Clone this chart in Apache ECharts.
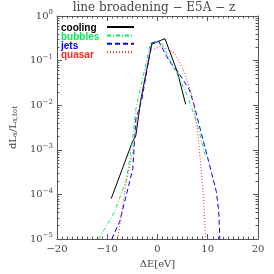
<!DOCTYPE html>
<html><head><meta charset="utf-8">
<script src="https://cdn.jsdelivr.net/npm/echarts@6/dist/echarts.min.js"></script>
<style>html,body{margin:0;padding:0;background:#fff}#c{width:274px;height:274px}</style>
</head><body><div id="c"></div>
<script>
const seriesNames = ['cooling', 'bubbles', 'jets', 'quasar'];
const xCooling = [-9.2, -5.0, -4.3, -3.3, -1.15, 0.8, 1.5, 4.0, 5.6];
const yCooling = [8.1e-5, 1.5e-3, 2.1e-3, 1.35e-2, 0.23, 0.29, 0.31, 0.054, 0.0105];
const xBubbles = [-11.7, -8.5, -6.2, -5.0, -4.3, -1.4, -0.2, 0.8, 2.1, 3.7, 6.0, 6.9, 7.9, 9.6];
const yBubbles = [1e-5, 4.2e-5, 2.1e-4, 1.5e-3, 8.1e-3, 0.245, 0.263, 0.25, 0.126, 0.054, 0.0162, 0.0081, 0.0038, 6.9e-4];
const xJets = [-9.1, -7.5, -4.9, -4.3, -3.1, -1.15, 0.2, 2.4, 4.0, 6.3, 7.25, 8.5, 10.8, 11.7, 12.2, 12.4];
const yJets = [1e-5, 2.5e-5, 3.8e-4, 4.9e-3, 0.0135, 0.25, 0.275, 0.095, 0.0575, 0.0229, 0.0105, 2.95e-3, 2.95e-4, 1.17e-4, 4.2e-5, 1e-5];
const xQuasar = [-7.9, -6.2, -4.9, -4.0, -3.3, -1.7, -1.1, 0.8, 3.4, 5.3, 6.9, 7.6, 8.2, 8.85, 9.2, 9.6];
const yQuasar = [1e-5, 1.95e-4, 9.1e-4, 4.9e-3, 0.0135, 0.135, 0.174, 0.21, 0.148, 0.0575, 0.0162, 4.9e-3, 1.5e-3, 2.3e-4, 6.9e-5, 1e-5];
const xTicks = [-20, -10, 0, 10, 20];
const yDecades = [1e-5, 1e-4, 1e-3, 1e-2, 1e-1, 1];

const colors = ['#000000', '#00ee55', '#0000ff', '#ff2a1a'];
const dashes = ['solid', [4, 2, 1, 2], [5, 3], [1, 2]];
const xs = [xCooling, xBubbles, xJets, xQuasar];
const ys = [yCooling, yBubbles, yJets, yQuasar];

const minorVals = [];
for (let e = -5; e < 0; e++) for (let m = 2; m <= 9; m++) minorVals.push(m * Math.pow(10, e));

const serif = 'DejaVu Serif';
const axisCol = '#555';
const pair = (a, b) => a.map((v, i) => [v, b[i]]);

function yBase(pos, labels) {
  return {
    type: 'log', logBase: 10, min: 1e-5, max: 1, position: pos,
    axisLine: { show: true, onZero: false, lineStyle: { color: axisCol, width: 1 } },
    axisTick: { show: true, inside: true, length: 5, lineStyle: { color: axisCol }, customValues: yDecades },
    axisLabel: labels ? {
      show: true, customValues: yDecades, color: '#444', fontFamily: serif, fontSize: 10, margin: 4,
      formatter: v => { const e = Math.round(Math.log10(v)); return '10{s|' + (e < 0 ? '\u2212' + (-e) : e) + '}'; },
      rich: { s: { fontSize: 7, verticalAlign: 'top', padding: [0, 0, 7, 0], fontFamily: serif, color: '#444' } }
    } : { show: false },
    splitLine: { show: false }
  };
}
function yMinor(pos) {
  return {
    type: 'log', logBase: 10, min: 1e-5, max: 1, position: pos,
    axisLine: { show: false, onZero: false },
    axisTick: { show: true, inside: true, length: 2.5, lineStyle: { color: axisCol }, customValues: minorVals },
    axisLabel: { show: false }, splitLine: { show: false }
  };
}
function xBase(pos, labels) {
  return {
    type: 'value', min: -20, max: 20, interval: 10, position: pos,
    axisLine: { show: true, onZero: false, lineStyle: { color: axisCol, width: 1 } },
    axisTick: { show: true, inside: true, length: 5, lineStyle: { color: axisCol } },
    minorTick: { show: true, splitNumber: 10, length: 2.5, lineStyle: { color: axisCol } },
    axisLabel: labels ? { show: true, color: '#444', fontFamily: serif, fontSize: 10, margin: 5,
      formatter: v => (v < 0 ? '\u2212' + (-v) : '' + v) } : { show: false },
    splitLine: { show: false }, minorSplitLine: { show: false },
    name: labels ? '\u0394E[eV]' : '', nameLocation: 'middle', nameGap: 19,
    nameTextStyle: { fontFamily: serif, fontSize: 10, color: '#444' }
  };
}

const chart = echarts.init(document.getElementById('c'), null, { renderer: 'canvas' });
const y0 = yBase('left', true);
y0.name = 'dL{b|x}/L{b|x,tot}';
y0.nameLocation = 'middle';
y0.nameGap = 23;
y0.nameRotate = 90;
y0.nameTextStyle = { fontFamily: serif, fontSize: 10, color: '#444',
  rich: { b: { fontSize: 7, verticalAlign: 'bottom', padding: [5, 0, 0, 0], fontFamily: serif, color: '#444' } } };

chart.setOption({
  animation: false,
  title: { text: 'line broadening \u2212 E5A \u2212 z', left: 154, textAlign: 'center', top: 1, padding: [0, 0, 0, 0],
    textStyle: { fontFamily: serif, fontWeight: 'normal', fontSize: 12, lineHeight: 13, color: '#444' } },
  grid: { left: 50, right: 16, top: 16, bottom: 33, containLabel: false },
  xAxis: [xBase('bottom', true), xBase('top', false)],
  yAxis: [y0, yMinor('left'), yBase('right', false), yMinor('right')],
  legend: [
    { orient: 'vertical', left: 101, top: 19, itemWidth: 27, itemHeight: 6, itemGap: 3,
      itemStyle: { opacity: 0, borderWidth: 0 },
      formatter: () => '', textStyle: { fontSize: 1 }, selectedMode: false, data: seriesNames },
    { orient: 'vertical', left: 51, top: 18, itemWidth: 0, itemHeight: 0, itemGap: -1, selectedMode: false,
      icon: 'rect',
      textStyle: { fontFamily: 'Liberation Sans', fontWeight: 'bold', fontSize: 10, lineHeight: 9 },
      data: seriesNames.map((n, i) => ({ name: n, textStyle: { color: colors[i] }, itemStyle: { opacity: 0 } })) }
  ],
  series: seriesNames.map((n, i) => ({
    name: n, type: 'line', xAxisIndex: 0, yAxisIndex: 0, data: pair(xs[i], ys[i]),
    showSymbol: false, symbol: 'none', clip: true,
    lineStyle: { color: colors[i], width: 1, type: dashes[i] }, itemStyle: { color: colors[i] }
  }))
});
</script></body></html>
